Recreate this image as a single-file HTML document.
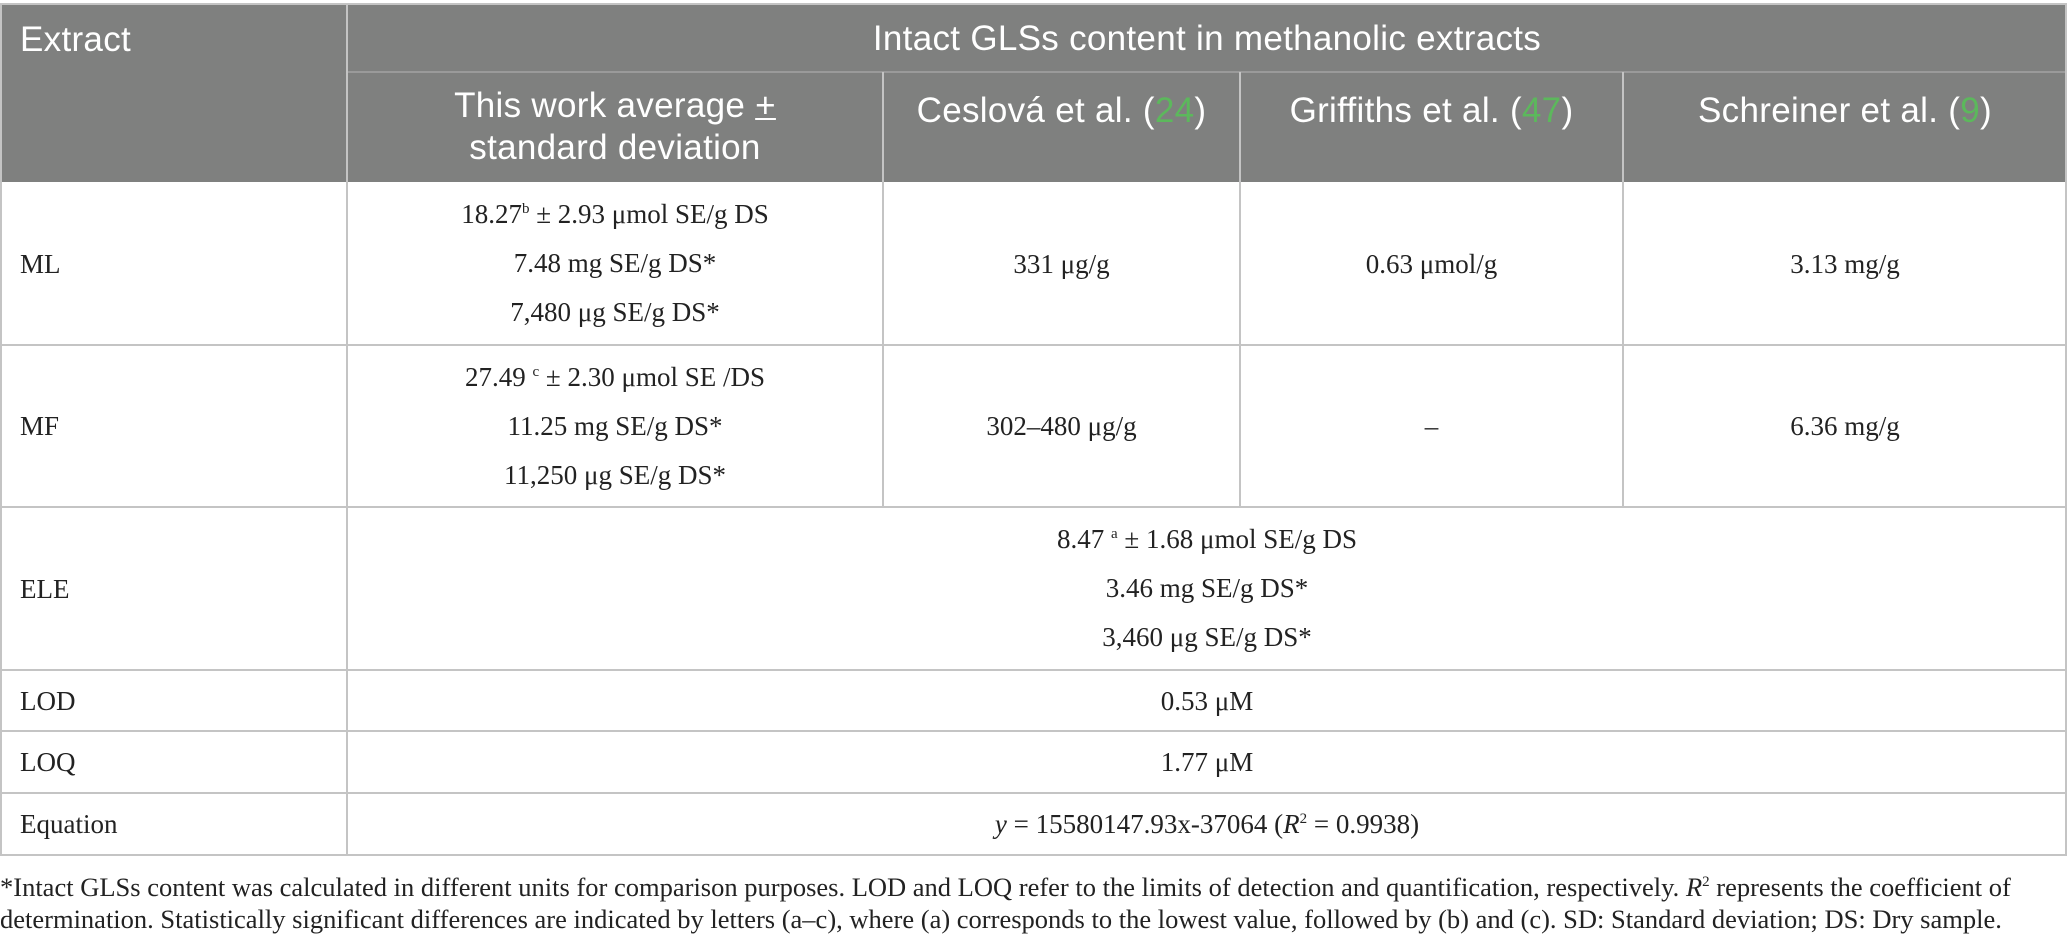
<!DOCTYPE html>
<html><head><meta charset="utf-8">
<style>
body{margin:0;width:2067px;height:944px;background:#fff;position:relative;overflow:hidden;font-family:"Liberation Serif",serif;color:#222}
.c{position:absolute;display:flex;flex-direction:column;justify-content:center;align-items:center;text-align:center;box-sizing:border-box;font-size:27px;line-height:32px}
.l{align-items:flex-start;padding-left:20px}
.h{font-family:"Liberation Sans",sans-serif;color:#fff;font-size:35px;line-height:42px;letter-spacing:0.3px}
.hl{position:absolute;height:2px;background:#c4c4c4}
.vl{position:absolute;width:2px;background:#c4c4c4}
.g{color:#5cb85c}
.fn{position:absolute;left:0;font-size:26.5px;line-height:32px;white-space:nowrap}
sup{font-size:15px;line-height:0}
</style></head><body>
<div style="position:absolute;left:0;top:4px;width:2067px;height:178px;background:#7f807f"></div>

<div class="c h l" style="left:0;top:4px;width:347px;height:72px"><div>Extract</div></div>
<div class="c h" style="left:347px;top:4px;width:1720px;height:70px"><div>Intact GLSs content in methanolic extracts</div></div>
<div class="c h" style="left:347px;top:72px;width:536px;height:110px"><div>This work average <u style="text-decoration-thickness:2px">+</u><br>standard deviation</div></div>
<div class="c h" style="left:883px;top:76px;width:357px;height:70px"><div>Ceslová et al. (<span class="g">24</span>)</div></div>
<div class="c h" style="left:1240px;top:76px;width:383px;height:70px"><div>Griffiths et al. (<span class="g">47</span>)</div></div>
<div class="c h" style="left:1623px;top:76px;width:444px;height:70px"><div>Schreiner et al. (<span class="g">9</span>)</div></div>

<div class="hl" style="left:347px;top:71px;width:1720px;background:#9a9a9a"></div>
<div class="vl" style="left:346px;top:4px;height:851px"></div>
<div class="vl" style="left:882px;top:72px;height:435px"></div>
<div class="vl" style="left:1239px;top:72px;height:435px"></div>
<div class="vl" style="left:1622px;top:72px;height:435px"></div>
<div class="hl" style="left:0;top:3px;width:2067px"></div>
<div class="hl" style="left:0;top:344px;width:2067px"></div>
<div class="hl" style="left:0;top:506px;width:2067px"></div>
<div class="hl" style="left:0;top:669px;width:2067px"></div>
<div class="hl" style="left:0;top:730px;width:2067px"></div>
<div class="hl" style="left:0;top:792px;width:2067px"></div>
<div class="hl" style="left:0;top:854px;width:2067px"></div>
<div class="vl" style="left:0;top:4px;height:851px"></div>
<div class="vl" style="left:2065px;top:4px;height:851px"></div>

<div class="c l" style="left:0;top:182px;width:347px;height:163px"><div>ML</div></div>
<div class="c" style="left:347px;top:182px;width:536px;height:163px;line-height:49px">
<div>18.27<sup>b</sup> ± 2.93 μmol SE/g DS</div><div>7.48 mg SE/g DS*</div><div>7,480 μg SE/g DS*</div></div>
<div class="c" style="left:883px;top:182px;width:357px;height:163px"><div>331 μg/g</div></div>
<div class="c" style="left:1240px;top:182px;width:383px;height:163px"><div>0.63 μmol/g</div></div>
<div class="c" style="left:1623px;top:182px;width:444px;height:163px"><div>3.13 mg/g</div></div>

<div class="c l" style="left:0;top:345px;width:347px;height:162px"><div>MF</div></div>
<div class="c" style="left:347px;top:345px;width:536px;height:162px;line-height:49px">
<div>27.49 <sup>c</sup> ± 2.30 μmol SE /DS</div><div>11.25 mg SE/g DS*</div><div>11,250 μg SE/g DS*</div></div>
<div class="c" style="left:883px;top:345px;width:357px;height:162px"><div>302–480 μg/g</div></div>
<div class="c" style="left:1240px;top:345px;width:383px;height:162px"><div>–</div></div>
<div class="c" style="left:1623px;top:345px;width:444px;height:162px"><div>6.36 mg/g</div></div>

<div class="c l" style="left:0;top:507px;width:347px;height:163px"><div>ELE</div></div>
<div class="c" style="left:347px;top:507px;width:1720px;height:163px;line-height:49px">
<div>8.47 <sup>a</sup> ± 1.68 μmol SE/g DS</div><div>3.46 mg SE/g DS*</div><div>3,460 μg SE/g DS*</div></div>

<div class="c l" style="left:0;top:670px;width:347px;height:61px"><div>LOD</div></div>
<div class="c" style="left:347px;top:670px;width:1720px;height:61px"><div>0.53 μM</div></div>
<div class="c l" style="left:0;top:731px;width:347px;height:62px"><div>LOQ</div></div>
<div class="c" style="left:347px;top:731px;width:1720px;height:62px"><div>1.77 μM</div></div>
<div class="c l" style="left:0;top:793px;width:347px;height:62px"><div>Equation</div></div>
<div class="c" style="left:347px;top:793px;width:1720px;height:62px"><div><i>y</i> = 15580147.93x-37064 (<i>R</i><sup>2</sup> = 0.9938)</div></div>

<div class="fn" style="top:871px">*Intact GLSs content was calculated in different units for comparison purposes. LOD and LOQ refer to the limits of detection and quantification, respectively. <i>R</i><sup>2</sup> represents the coefficient of</div>
<div class="fn" style="top:903px">determination. Statistically significant differences are indicated by letters (a–c), where (a) corresponds to the lowest value, followed by (b) and (c). SD: Standard deviation; DS: Dry sample.</div>
</body></html>
